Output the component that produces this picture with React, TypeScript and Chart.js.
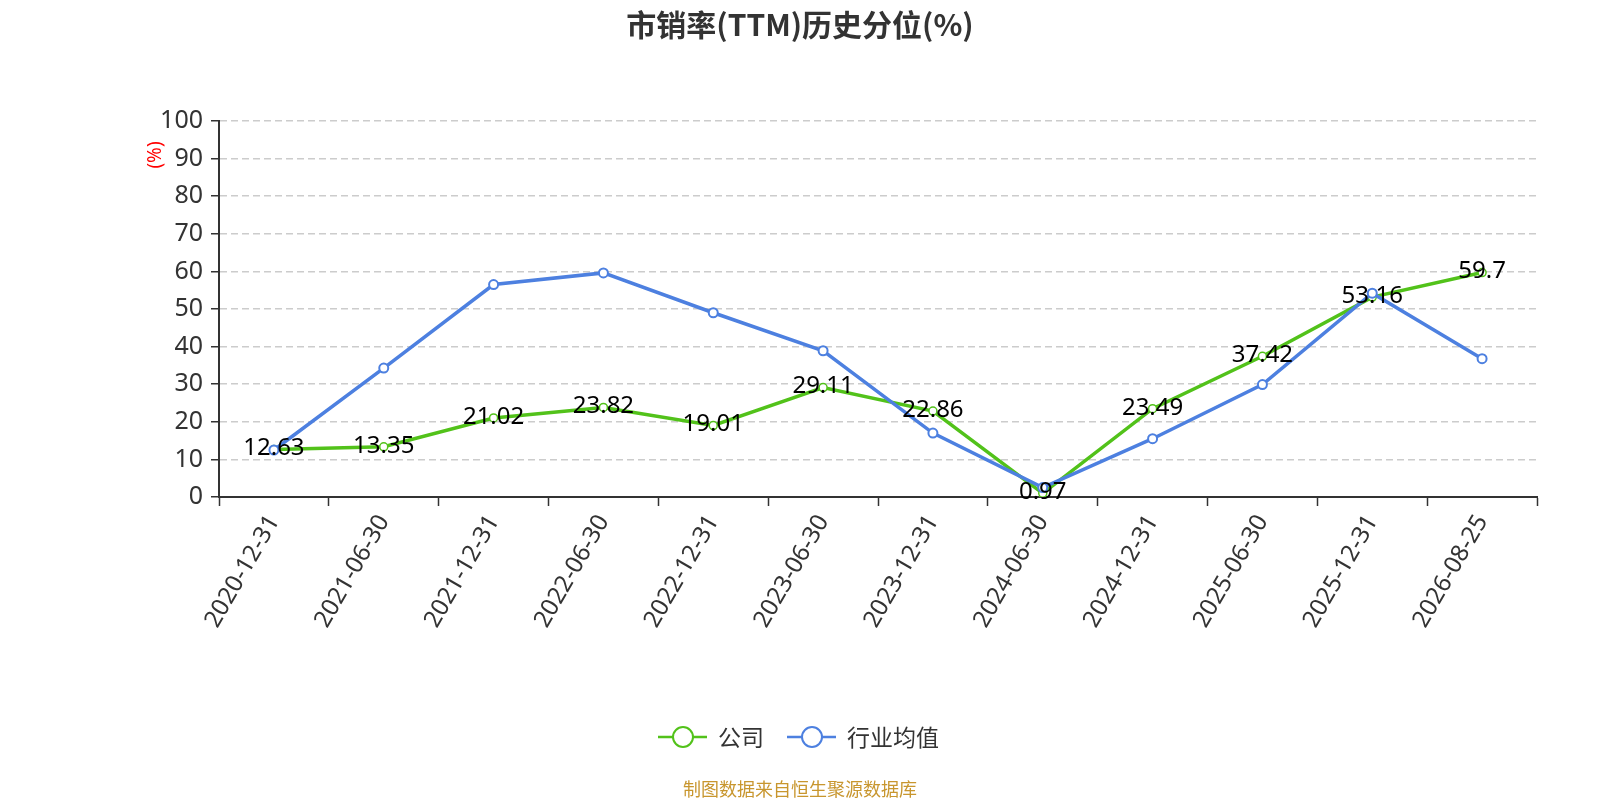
import React, { useEffect, useRef } from 'react';
import { Chart, registerables } from 'chart.js';

Chart.register(...registerables);

const dates = [
  '2020-12-31', '2021-06-30', '2021-12-31', '2022-06-30', '2022-12-31', '2023-06-30',
  '2023-12-31', '2024-06-30', '2024-12-31', '2025-06-30', '2025-12-31', '2026-08-25',
];
const companyValues = [12.63, 13.35, 21.02, 23.82, 19.01, 29.11, 22.86, 0.97, 23.49, 37.42, 53.16, 59.7];
const industryValues = [12.5, 34.3, 56.5, 59.6, 49.0, 38.9, 17.0, 2.5, 15.5, 29.9, 54.2, 36.8];
const seriesNames = ['公司', '行业均值'];

const GREEN = '#52c21a';
const BLUE = '#4d80e0';
const FONT = "'Noto Sans', 'Noto Sans CJK SC', sans-serif";
const CJK = "'Noto Sans CJK SC', 'Noto Sans', sans-serif";

const PriceSalesChart: React.FC = () => {
  const canvasRef = useRef<HTMLCanvasElement | null>(null);
  const chartInstance = useRef<Chart | null>(null);

  useEffect(() => {
    const canvas = canvasRef.current;
    if (!canvas) return;
    const ctx = canvas.getContext('2d');
    if (!ctx) return;

    if (chartInstance.current) {
      chartInstance.current.destroy();
    }

    chartInstance.current = new Chart(ctx, {
      type: 'line',
      data: {
        labels: dates,
        datasets: [
          {
            label: seriesNames[0],
            data: companyValues,
            borderColor: GREEN,
            backgroundColor: '#fff',
            borderWidth: 3.5,
            pointRadius: 4,
            pointBorderWidth: 1.5,
            pointBackgroundColor: '#fff',
            pointBorderColor: GREEN,
            tension: 0,
            order: 1,
          },
          {
            label: seriesNames[1],
            data: industryValues,
            borderColor: BLUE,
            backgroundColor: '#fff',
            borderWidth: 3.5,
            pointRadius: 4.5,
            pointBorderWidth: 2,
            pointBackgroundColor: '#fff',
            pointBorderColor: BLUE,
            tension: 0,
            order: 0,
          },
        ],
      },
      options: {
        responsive: true,
        maintainAspectRatio: false,
        animation: false,
        layout: {
          padding: { left: 0, right: 63, top: 121, bottom: 0 },
        },
        plugins: {
          legend: { display: false },
          title: { display: false },
          tooltip: { enabled: false },
        },
        scales: {
          x: {
            type: 'category',
            offset: true,
            afterFit(scale) {
              scale.height = 303;
            },
            grid: {
              display: true,
              offset: true,
              drawOnChartArea: false,
              drawTicks: true,
              tickLength: 9,
              tickColor: '#333',
              tickWidth: 1.5,
            },
            border: { display: true, color: '#333', width: 2 },
            ticks: {
              autoSkip: false,
              maxRotation: 60,
              minRotation: 60,
              padding: 4,
              color: '#333',
              font: { family: FONT, size: 24 },
            },
          },
          y: {
            min: 0,
            max: 100,
            afterFit(scale) {
              scale.width = 219;
            },
            grid: {
              color: '#cccccc',
              lineWidth: 1.5,
              drawTicks: true,
              tickLength: 8,
              tickColor: '#333',
              tickWidth: 1.5,
            },
            border: { display: true, color: '#333', width: 2, dash: [7, 4] },
            ticks: {
              stepSize: 10,
              padding: 8,
              color: '#333',
              font: { family: FONT, size: 25 },
            },
          },
        },
      },
      plugins: [
        {
          id: 'overlay',
          afterDatasetsDraw(chart) {
            const c = chart.ctx;
            const meta = chart.getDatasetMeta(0);
            c.save();
            c.fillStyle = '#000';
            c.font = `24px ${FONT}`;
            c.textAlign = 'center';
            c.textBaseline = 'middle';
            meta.data.forEach((pt, i) => {
              c.fillText(String(companyValues[i]), pt.x, pt.y - 1);
            });
            c.restore();
          },
          afterDraw(chart) {
            const c = chart.ctx;
            c.save();

            // title
            c.fillStyle = '#333';
            c.font = `bold 30px ${CJK}`;
            c.textAlign = 'center';
            c.textBaseline = 'middle';
            c.fillText('市销率(TTM)历史分位(%)', 800, 25);

            // y axis name
            c.save();
            c.translate(156, 155);
            c.rotate(-Math.PI / 2);
            c.fillStyle = '#ff0000';
            c.font = `19px ${FONT}`;
            c.fillText('(%)', 0, 0);
            c.restore();

            // legend
            const items = [
              { name: seriesNames[0], color: GREEN, x: 658 },
              { name: seriesNames[1], color: BLUE, x: 787 },
            ];
            const ly = 737;
            items.forEach((it) => {
              c.strokeStyle = it.color;
              c.lineWidth = 2.5;
              c.beginPath();
              c.moveTo(it.x, ly);
              c.lineTo(it.x + 49, ly);
              c.stroke();
              c.beginPath();
              c.arc(it.x + 25, ly, 10, 0, Math.PI * 2);
              c.fillStyle = '#fff';
              c.fill();
              c.lineWidth = 2;
              c.stroke();
              c.fillStyle = '#333';
              c.font = `23px ${CJK}`;
              c.textAlign = 'left';
              c.textBaseline = 'middle';
              c.fillText(it.name, it.x + 60, ly);
            });

            // source
            c.fillStyle = '#c8962e';
            c.font = `18px ${CJK}`;
            c.textAlign = 'center';
            c.textBaseline = 'middle';
            c.fillText('制图数据来自恒生聚源数据库', 800, 789);

            c.restore();
          },
        },
      ],
    });

    return () => {
      if (chartInstance.current) {
        chartInstance.current.destroy();
        chartInstance.current = null;
      }
    };
  }, []);

  return (
    <div style={{ position: 'absolute', left: 0, top: 0, width: '1600px', height: '800px', background: '#fff' }}>
      <canvas ref={canvasRef}></canvas>
    </div>
  );
};

export default function App() {
  return <PriceSalesChart />;
}
